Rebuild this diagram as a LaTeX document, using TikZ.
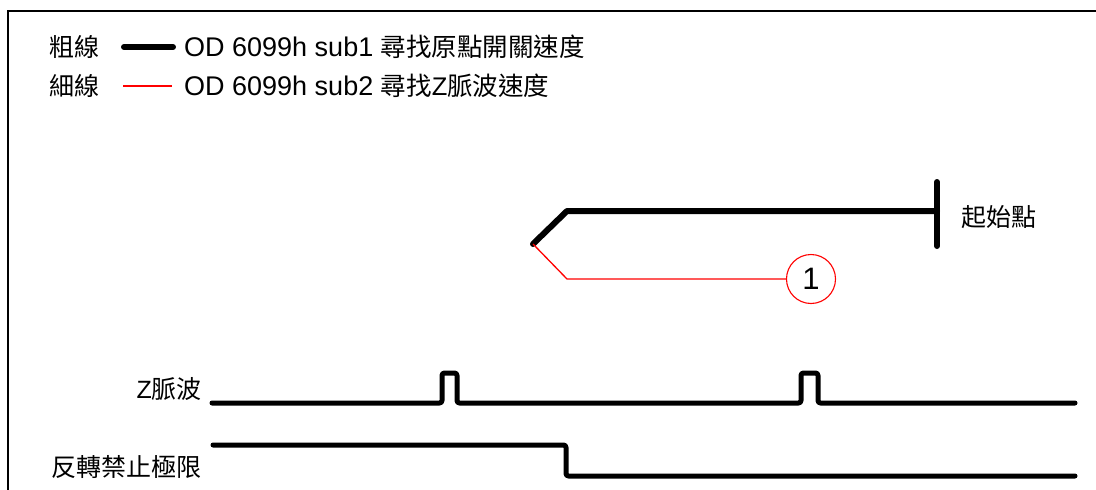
\documentclass[tikz,border=0pt]{standalone}
\usepackage{fontspec}
\setmainfont{Liberation Sans}
\newfontfamily\cjk{Noto Sans CJK TC}
\begin{document}
\begin{tikzpicture}[x=1pt,y=-1pt,
  txt/.style={font=\fontsize{25}{30}\selectfont, inner sep=0pt},
  lat/.style={font=\fontsize{27}{30}\selectfont, inner sep=0pt},
  thickline/.style={line width=6pt, line cap=round, line join=round},
  sigline/.style={line width=5pt, line cap=round, line join=round, rounded corners=2.5pt},
  thinline/.style={red, line width=1.3pt},
  frameline/.style={line width=2.5pt}]
\useasboundingbox (0,0) rectangle (1096,490);
% frame
\coordinate (fbl) at (8,492);
\coordinate (ftl) at (8,11);
\coordinate (ftr) at (1098,11);
\draw[frameline] (fbl) -- (ftl) -- (ftr);
% legend
\node[txt, anchor=west] (lg1) at (49,47) {\cjk 粗線};
\coordinate (lb1) at (124,47);
\coordinate (lb2) at (173,47);
\draw[thickline] (lb1) -- (lb2);
\node[lat, anchor=west] (lt1) at (184,47) {OD 6099h sub1 {\fontsize{25.5}{30}\selectfont\cjk 尋找原點開關速度}};
\node[txt, anchor=west] (lg2) at (49,86) {\cjk 細線};
\coordinate (lr1) at (123,86);
\coordinate (lr2) at (172,86);
\draw[thinline] (lr1) -- (lr2);
\node[lat, anchor=west] (lt2) at (184,86) {OD 6099h sub2 {\fontsize{25.5}{30}\selectfont\cjk 尋找}{\fontsize{25.5}{30}\selectfont Z}{\fontsize{25.5}{30}\selectfont\cjk 脈波速度}};
% motion path
\coordinate (p0) at (533,244);
\coordinate (p1) at (567,211);
\coordinate (p2) at (937,211);
\coordinate (bt) at (937,182);
\coordinate (bb) at (937,246);
\draw[thickline] (p0) -- (p1) -- (p2);
\draw[thickline] (bt) -- (bb);
\node[txt, anchor=west] (start) at (961,217) {\cjk 起始點};
\node[circle, draw=red, line width=1.1pt, minimum size=49pt, inner sep=0pt,
      font=\fontsize{31}{32}\selectfont] (c1) at (811,279) {1};
\coordinate (r1) at (567,279);
\draw[thinline] (p0) -- (r1) -- (c1.west);
% Z pulse
\node[txt, anchor=east] (zl) at (202,389) {Z{\cjk 脈波}};
\coordinate (z0) at (212,403);
\coordinate (z1) at (442,403);
\coordinate (z2) at (442,373);
\coordinate (z3) at (457,373);
\coordinate (z4) at (457,403);
\coordinate (z5) at (801,403);
\coordinate (z6) at (801,373);
\coordinate (z7) at (818,373);
\coordinate (z8) at (818,403);
\coordinate (z9) at (1075,403);
\draw[sigline] (z0) -- (z1) -- (z2) -- (z3) -- (z4) -- (z5) -- (z6) -- (z7) -- (z8) -- (z9);
% reverse limit
\node[txt, anchor=east] (ll) at (202,467) {\cjk 反轉禁止極限};
\coordinate (q0) at (213,445);
\coordinate (q1) at (566,445);
\coordinate (q2) at (566,476);
\coordinate (q3) at (1075,476);
\draw[sigline] (q0) -- (q1) -- (q2) -- (q3);
\end{tikzpicture}
\end{document}
